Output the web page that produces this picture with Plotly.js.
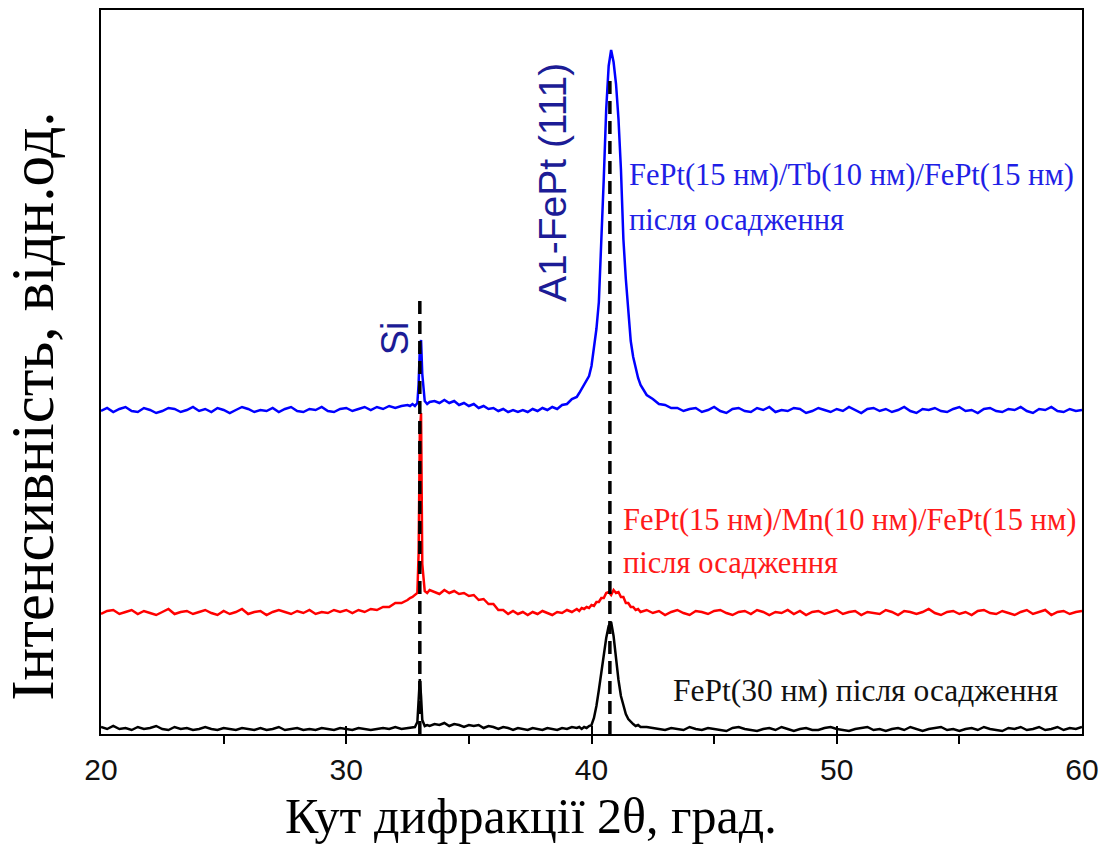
<!DOCTYPE html>
<html>
<head>
<meta charset="utf-8">
<script src="https://cdn.plot.ly/plotly-3.0.1.min.js"></script>
<style>html,body{margin:0;padding:0;background:#fff;}#chart{width:1114px;height:846px;}</style>
</head>
<body>
<div id="chart"></div>
<script>
// 2θ (degrees)
const twoTheta = [
  20, 20.25, 20.5, 20.75, 21, 21.25, 21.5, 21.75, 22, 22.25,
  22.5, 22.75, 23, 23.25, 23.5, 23.75, 24, 24.25, 24.5, 24.75,
  25, 25.25, 25.5, 25.75, 26, 26.25, 26.5, 26.75, 27, 27.25,
  27.5, 27.75, 28, 28.25, 28.5, 28.75, 29, 29.25, 29.5, 29.75,
  30, 30.25, 30.5, 30.75, 31, 31.25, 31.5, 31.75, 32, 32.25,
  32.5,
  32.6, 32.7, 32.8, 32.9, 32.95, 33.0, 33.05, 33.1, 33.2, 33.3, 33.4,
  33.6, 33.8, 34, 34.2, 34.4, 34.6, 34.8, 35, 35.2, 35.4,
  35.6, 35.8, 36, 36.2, 36.4, 36.6, 36.8, 37, 37.2, 37.4,
  37.6, 37.8, 38, 38.2, 38.4, 38.6, 38.8, 39, 39.2, 39.4,
  39.5, 39.6, 39.7, 39.8, 39.9, 40, 40.1, 40.2, 40.3, 40.4,
  40.5, 40.6, 40.7, 40.8, 40.9, 41, 41.1, 41.2, 41.3, 41.4,
  41.5, 41.6, 41.7, 41.8, 41.9, 42,
  42.25, 42.5, 42.75, 43, 43.25, 43.5, 43.75, 44, 44.25, 44.5,
  44.75, 45, 45.25, 45.5, 45.75, 46, 46.25, 46.5, 46.75, 47,
  47.25, 47.5, 47.75, 48, 48.25, 48.5, 48.75, 49, 49.25, 49.5,
  49.75, 50, 50.25, 50.5, 50.75, 51, 51.25, 51.5, 51.75, 52,
  52.25, 52.5, 52.75, 53, 53.25, 53.5, 53.75, 54, 54.25, 54.5,
  54.75, 55, 55.25, 55.5, 55.75, 56, 56.25, 56.5, 56.75, 57,
  57.25, 57.5, 57.75, 58, 58.25, 58.5, 58.75, 59, 59.25, 59.5,
  59.75, 60
];

// FePt(30 нм) — intensity (arb. units, stacked)
const intensityFePt30 = [
  7, 5, 8, 5, 6, 4, 7, 5, 6, 8,
  5, 4, 7, 5, 6, 4, 5, 7, 5, 4,
  6, 5, 4, 6, 5, 4, 6, 4, 5, 7,
  4, 5, 6, 4, 5, 4, 6, 5, 4, 6,
  5, 4, 6, 5, 4, 5, 6, 5, 7, 5,
  6,
  6, 7, 7, 12, 30, 55, 38, 14, 8, 9, 8,
  10, 9, 11, 8, 10, 9, 7, 9, 8, 9,
  6, 8, 7, 5, 7, 6, 4, 6, 5, 4,
  6, 5, 4, 6, 5, 4, 6, 5, 7, 6,
  7, 5, 7, 6, 8, 9, 16, 28, 44, 62,
  80, 96, 108, 112, 98, 74, 54, 38, 28, 20,
  15, 12, 10, 8, 9, 7,
  7, 6, 5, 4, 6, 5, 4, 7, 5, 4,
  6, 5, 4, 3, 6, 7, 5, 4, 3, 5,
  6, 4, 7, 5, 3, 5, 6, 4, 4, 6,
  7, 5, 4, 3, 5, 6, 7, 4, 5, 3,
  5, 6, 4, 7, 5, 3, 5, 6, 7, 4,
  5, 3, 5, 6, 4, 7, 5, 4, 3, 6,
  5, 7, 4, 5, 7, 4, 5, 7, 4, 6,
  5, 7
];

// FePt(15 нм)/Mn(10 нм)/FePt(15 нм)
const intensityFePtMn = [
  120, 123, 124, 120, 122, 124, 120, 123, 121, 119,
  122, 125, 120, 122, 123, 120, 122, 124, 121, 119,
  123, 120, 122, 125, 120, 122, 123, 119, 122, 124,
  122, 120, 123, 121, 124, 120, 122, 121, 124, 122,
  124, 121, 124, 122, 125, 124, 127, 127, 131, 131,
  134,
  136, 137, 139, 141, 180, 300, 321, 170, 143, 141, 144,
  142, 140, 144, 141, 143, 140, 141, 138, 139, 134,
  135, 130, 130, 124, 124, 120, 123, 120, 122, 119,
  122, 120, 123, 121, 119, 122, 121, 124, 122, 125,
  123, 126, 125, 127, 126, 129, 128, 132, 132, 136,
  136, 141, 142, 139, 144, 141, 142, 137, 137, 131,
  131, 127, 127, 124, 125, 122,
  124, 121, 123, 119, 122, 124, 121, 119, 123, 122,
  120, 123, 124, 121, 119, 122, 123, 120, 124, 122,
  119, 122, 121, 124, 120, 123, 119, 122, 123, 120,
  122, 124, 120, 122, 123, 119, 122, 121, 120, 124,
  122, 119, 123, 122, 120, 122, 125, 121, 119, 122,
  123, 120, 122, 119, 123, 124, 121, 120, 123, 121,
  119, 122, 124, 120, 122, 124, 119, 122, 123, 120,
  122, 123
];

// FePt(15 нм)/Tb(10 нм)/FePt(15 нм)
const intensityFePtTb = [
  323, 326, 322, 325, 327, 323, 322, 326, 324, 321,
  323, 326, 325, 322, 324, 327, 323, 325, 322, 326,
  324, 321, 324, 327, 325, 322, 324, 323, 326, 322,
  325, 327, 323, 322, 325, 324, 327, 323, 322, 325,
  326, 323, 325, 327, 324, 327, 325, 328, 326, 328,
  329,
  328, 330, 328, 331, 350, 385, 394, 360, 333, 330, 332,
  333, 331, 334, 331, 333, 329, 331, 328, 330, 326,
  328, 325, 326, 323, 325, 322, 324, 322, 324, 322,
  325, 323, 326, 324, 327, 325, 329, 330, 335, 337,
  341, 345, 349, 353, 358, 368, 384, 405, 432, 490,
  555, 625, 668, 684, 672, 650, 615, 565, 495, 455,
  420, 393, 377, 365, 356, 349,
  339, 335, 330, 329, 326, 326, 323, 325, 326, 322,
  324, 327, 323, 321, 325, 326, 323, 322, 326, 324,
  327, 322, 324, 323, 326, 325, 321, 323, 326, 324,
  322, 325, 323, 327, 324, 321, 325, 326, 323, 325,
  322, 324, 327, 323, 321, 325, 324, 326, 323, 322,
  325, 327, 323, 324, 321, 325, 326, 323, 322, 325,
  324, 327, 323, 321, 325, 324, 327, 323, 322, 325,
  323, 324
];

// Reference peak positions (dashed markers)
const refPeakNames = ['Si', 'A1-FePt (111)'];
const refPeakPos = [33.0, 40.75];
const refPeakTop = [440, 660];

const seriesNames = [
  'FePt(30 нм) після осадження',
  'FePt(15 нм)/Mn(10 нм)/FePt(15 нм) після осадження',
  'FePt(15 нм)/Tb(10 нм)/FePt(15 нм) після осадження'
];
const seriesColors = ['#000000', '#ff0000', '#0000ff'];
const seriesData = [intensityFePt30, intensityFePtMn, intensityFePtTb];

const traces = seriesData.map((ys, i) => ({
  type: 'scatter', mode: 'lines', name: seriesNames[i],
  x: twoTheta, y: ys,
  line: {color: seriesColors[i], width: 2.5},
  hoverinfo: 'x+y'
}));

refPeakPos.forEach((p, i) => {
  traces.push({
    type: 'scatter', mode: 'lines', name: refPeakNames[i],
    x: [p, p], y: [0, refPeakTop[i]],
    line: {color: '#000000', width: 3.5, dash: '13px,7px'},
    hoverinfo: 'skip'
  });
});

const serif = 'Liberation Serif, Times New Roman, serif';
const sans = 'Liberation Sans, Arial, sans-serif';
const navy = '#1c1c96';

const layout = {
  width: 1114, height: 846,
  margin: {l: 101, r: 32, t: 10, b: 112},
  paper_bgcolor: '#ffffff', plot_bgcolor: '#ffffff',
  showlegend: false,
  font: {family: sans, color: '#000'},
  xaxis: {
    range: [20, 60], tick0: 20, dtick: 10,
    ticks: 'inside', ticklen: 8, tickwidth: 2, tickcolor: '#000',
    minor: {tick0: 20, dtick: 5, ticks: 'outside', ticklen: 8, tickwidth: 2, tickcolor: '#000', showgrid: false},
    showline: true, linewidth: 2, linecolor: '#000', mirror: true,
    showgrid: false, zeroline: false,
    tickfont: {family: sans, size: 30, color: '#111'},
    ticklabelstandoff: 8
  },
  yaxis: {
    range: [0, 724],
    showticklabels: false, ticks: '',
    showline: true, linewidth: 2, linecolor: '#000', mirror: true,
    showgrid: false, zeroline: false
  },
  annotations: [
    {x: 0.4383, y: -0.113, xref: 'paper', yref: 'paper', text: 'Кут дифракції 2θ, град.', showarrow: false,
     font: {family: serif, size: 50, color: '#000'}, xanchor: 'center', yanchor: 'middle'},
    {x: -0.0693, y: 0.452, xref: 'paper', yref: 'paper', text: 'Інтенсивність, відн.од.', textangle: -90, showarrow: false,
     font: {family: serif, size: 61, color: '#000'}, xanchor: 'center', yanchor: 'middle'},
    {x: 32.0, y: 396, xref: 'x', yref: 'y', text: 'Si', textangle: -90, showarrow: false,
     font: {family: sans, size: 38, color: navy}, xanchor: 'center', yanchor: 'middle'},
    {x: 38.39, y: 551, xref: 'x', yref: 'y', text: 'A1-FePt (111)', textangle: -90, showarrow: false,
     font: {family: sans, size: 39, color: navy}, xanchor: 'center', yanchor: 'middle'},
    {x: 41.45, y: 559, xref: 'x', yref: 'y', text: 'FePt(15 нм)/Tb(10 нм)/FePt(15 нм)', showarrow: false,
     font: {family: serif, size: 30.5, color: '#1f1fe6'}, xanchor: 'left', yanchor: 'middle'},
    {x: 41.45, y: 514, xref: 'x', yref: 'y', text: 'після осадження', showarrow: false,
     font: {family: serif, size: 30.5, color: '#1f1fe6'}, xanchor: 'left', yanchor: 'middle'},
    {x: 41.2, y: 214, xref: 'x', yref: 'y', text: 'FePt(15 нм)/Mn(10 нм)/FePt(15 нм)', showarrow: false,
     font: {family: serif, size: 30.5, color: '#ff1a1a'}, xanchor: 'left', yanchor: 'middle'},
    {x: 41.2, y: 171, xref: 'x', yref: 'y', text: 'після осадження', showarrow: false,
     font: {family: serif, size: 30.5, color: '#ff1a1a'}, xanchor: 'left', yanchor: 'middle'},
    {x: 43.25, y: 44, xref: 'x', yref: 'y', text: 'FePt(30 нм) після осадження', showarrow: false,
     font: {family: serif, size: 31.5, color: '#111'}, xanchor: 'left', yanchor: 'middle'}
  ]
};

Plotly.newPlot('chart', traces, layout, {displayModeBar: false, staticPlot: true});
</script>
</body>
</html>
